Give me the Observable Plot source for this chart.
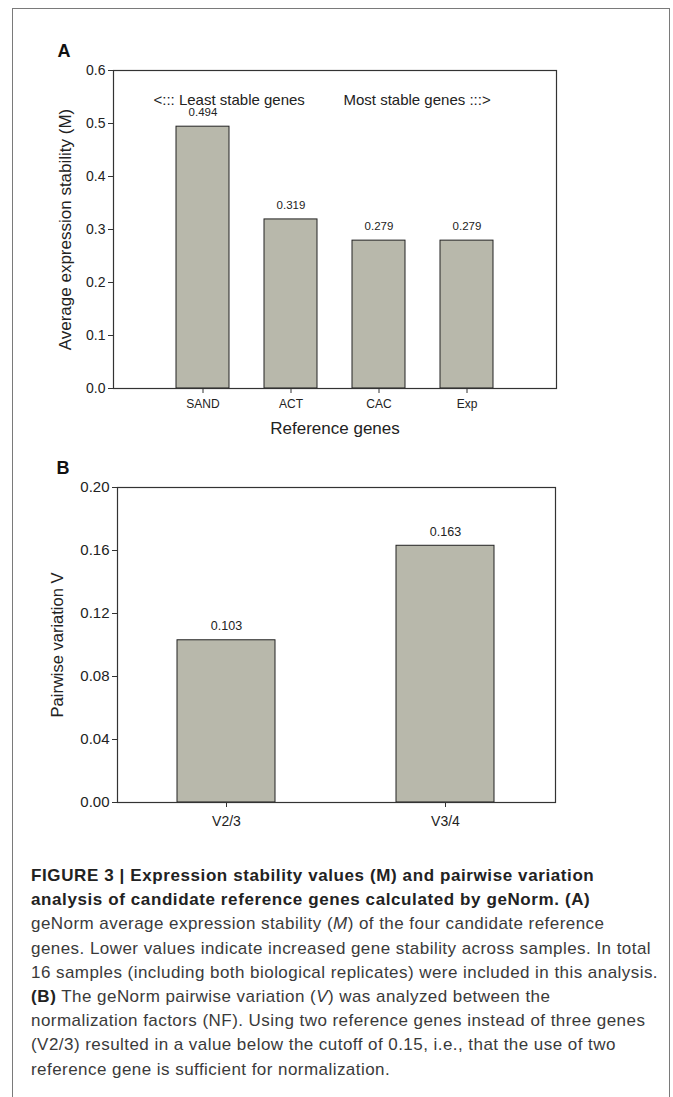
<!DOCTYPE html>
<html>
<head>
<meta charset="utf-8">
<script src="https://cdn.jsdelivr.net/npm/d3@7"></script>
<script src="https://cdn.jsdelivr.net/npm/@observablehq/plot@0.6"></script>
<style>
  html, body { margin: 0; padding: 0; background: #fff; }
  #page { position: relative; width: 673px; height: 1097px; overflow: hidden; background: #fff; }
  #border { position: absolute; left: 12px; top: 8px; width: 658px; height: 1090px;
            border: 1.5px solid #7a7a7a; border-bottom: none; box-sizing: border-box; }
  .chart { position: absolute; left: 0; }
  .chart svg { font-family: "Liberation Sans", Arial, sans-serif; }
  #caption { position: absolute; left: 31px; top: 864px; font-family: "Liberation Sans", Arial, sans-serif;
             font-size: 17px; letter-spacing: 0.45px; line-height: 24.2px; color: #3a3a3a; white-space: nowrap; }
  #caption b { color: #222; letter-spacing: 0.6px; }
</style>
</head>
<body>
<div id="page">
  <div id="border"></div>
  <div id="chartA" class="chart" style="top:0px"></div>
  <div id="chartB" class="chart" style="top:440px"></div>
  <div id="caption">
    <b>FIGURE 3 | Expression stability values (M) and pairwise variation</b><br>
    <b>analysis of candidate reference genes calculated by geNorm. (A)</b><br>
    geNorm average expression stability (<i>M</i>) of the four candidate reference<br>
    genes. Lower values indicate increased gene stability across samples. In total<br>
    16 samples (including both biological replicates) were included in this analysis.<br>
    <b>(B)</b> The geNorm pairwise variation (<i>V</i>) was analyzed between the<br>
    normalization factors (NF). Using two reference genes instead of three genes<br>
    (V2/3) resulted in a value below the cutoff of 0.15, i.e., that the use of two<br>
    reference gene is sufficient for normalization.
  </div>
</div>
<script>
// ---- Data ----
const genesA = ["SAND", "ACT", "CAC", "Exp"];
const valuesA = [0.494, 0.319, 0.279, 0.279];
const ticksA = [0, 0.1, 0.2, 0.3, 0.4, 0.5, 0.6];
const labelYA = "Average expression stability (M)";
const labelXA = "Reference genes";
const noteLeftA = "<::: Least stable genes";
const noteRightA = "Most stable genes :::>";

const pairsB = ["V2/3", "V3/4"];
const valuesB = [0.103, 0.163];
const ticksB = [0, 0.04, 0.08, 0.12, 0.16, 0.20];
const labelYB = "Pairwise variation V";

const barFill = "#b8b8ab";

// ---- Chart A ----
const dataA = genesA.map((g, i) => ({gene: g, value: valuesA[i]}));
const chartA = Plot.plot({
  width: 673, height: 460,
  marginLeft: 113, marginRight: 117, marginTop: 70, marginBottom: 72,
  style: {fontSize: "12px", color: "#222"},
  x: {domain: genesA, paddingInner: 0.396, paddingOuter: 0.698},
  y: {domain: [0, 0.6]},
  marks: [
    Plot.barY(dataA, {x: "gene", y: "value", fill: barFill, stroke: "#222", strokeWidth: 1}),
    Plot.text(dataA, {x: "gene", y: "value", text: d => d3.format(".3f")(d.value), dy: -14, fontSize: 11.5, fill: "#222"}),
    Plot.frame({stroke: "#333", strokeWidth: 1.2}),
    Plot.axisY({ticks: ticksA, tickFormat: d3.format(".1f"), tickSize: 5, tickPadding: 3, label: null, fontSize: 14, stroke: "#333"}),
    Plot.axisX({tickSize: 5, tickPadding: 6, label: null, fontSize: 12, stroke: "#333"}),
    Plot.text([labelYA], {frameAnchor: "left", dx: -48, rotate: -90, textAnchor: "middle", fontSize: 17, fill: "#222"}),
    Plot.text([labelXA], {frameAnchor: "bottom", dy: 45, fontSize: 17, fill: "#222"}),
    Plot.text([noteLeftA], {frameAnchor: "top-left", dx: 40, dy: 24, textAnchor: "start", fontSize: 15, fill: "#222"}),
    Plot.text([noteRightA], {frameAnchor: "top-left", dx: 230, dy: 24, textAnchor: "start", fontSize: 15, fill: "#222"}),
    Plot.text(["A"], {frameAnchor: "top-left", dx: -56, dy: -26, textAnchor: "start", fontSize: 18, fontWeight: "bold", fill: "#111"})
  ]
});
document.getElementById("chartA").appendChild(chartA);

// ---- Chart B ----
const dataB = pairsB.map((p, i) => ({pair: p, value: valuesB[i]}));
const chartB = Plot.plot({
  width: 673, height: 420,
  marginLeft: 117, marginRight: 118, marginTop: 47, marginBottom: 58,
  style: {fontSize: "12px", color: "#222"},
  x: {domain: pairsB, paddingInner: 0.551, paddingOuter: 0.2755},
  y: {domain: [0, 0.2]},
  marks: [
    Plot.barY(dataB, {x: "pair", y: "value", fill: barFill, stroke: "#222", strokeWidth: 1}),
    Plot.text(dataB, {x: "pair", y: "value", text: d => d3.format(".3f")(d.value), dy: -14, fontSize: 12.5, fill: "#222"}),
    Plot.frame({stroke: "#333", strokeWidth: 1.2}),
    Plot.axisY({ticks: ticksB, tickFormat: d3.format(".2f"), tickSize: 5, tickPadding: 3, label: null, fontSize: 15, stroke: "#333"}),
    Plot.axisX({tickSize: 5, tickPadding: 9, label: null, fontSize: 14, stroke: "#333"}),
    Plot.text([labelYB], {frameAnchor: "left", dx: -60, rotate: -90, textAnchor: "middle", fontSize: 16.5, fill: "#222"}),
    Plot.text(["B"], {frameAnchor: "top-left", dx: -61, dy: -26, textAnchor: "start", fontSize: 18, fontWeight: "bold", fill: "#111"})
  ]
});
document.getElementById("chartB").appendChild(chartB);
</script>
</body>
</html>
